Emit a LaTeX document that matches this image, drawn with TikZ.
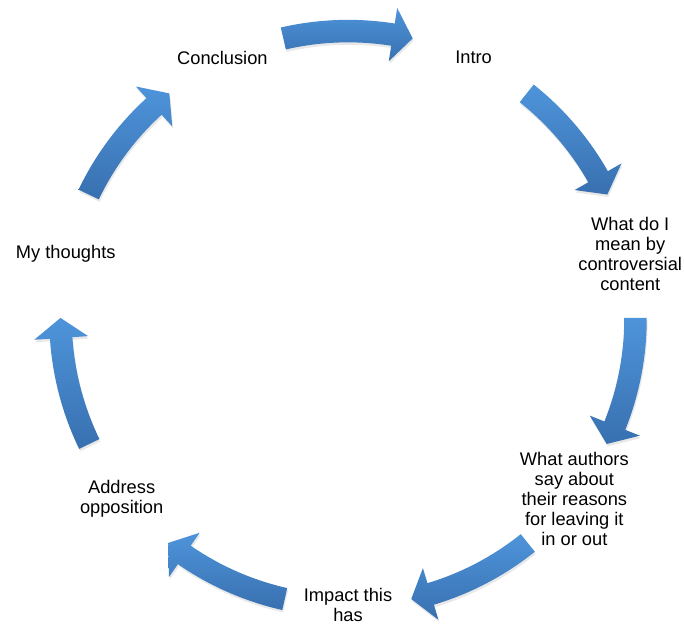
\documentclass[tikz,border=0pt]{standalone}
\usepackage{fontspec}
\setmainfont{Liberation Sans}
\usetikzlibrary{shadows}
\definecolor{cyctop}{RGB}{78,148,218}
\definecolor{cycbot}{RGB}{56,112,176}

\begin{document}
\begin{tikzpicture}[font=\fontsize{10.4}{11.3}\selectfont,
  lbl/.style={align=center,inner sep=0pt},
  cycarrow/.style={top color=cyctop,bottom color=cycbot,draw=none,
    drop shadow={opacity=0.18,shadow xshift=0.5pt,shadow yshift=-1.4pt}}]
\useasboundingbox (0,0) rectangle (13.68,12.52);
\begin{scope}[shift={(6.96,6.148)}]
% curved block arrows, clockwise between the steps
\foreach \m in {90,38.57,-12.86,-64.29,-115.71,-167.14,141.43} {
  \path[cycarrow] (\m+13:5.975) arc[start angle=\m+13,end angle=\m-9,radius=5.975]
    -- (\m-9:6.29) -- (\m-13:5.75) -- (\m-9:5.21) -- (\m-9:5.525)
    arc[start angle=\m-9,end angle=\m+13,radius=5.525] -- cycle;
}
% steps
\node[lbl] (intro) at (64.29:5.79) {Intro};
\node[lbl] (meaning) at (12.86:5.79) {What do I\\mean by\\controversial\\content};
\node[lbl] (authors) at (-38.57:5.79) {What authors\\say about\\their reasons\\for leaving it\\in or out};
\node[lbl] (impact) at (-90:5.72) {Impact this\\has};
\node[lbl] (oppose) at (-141.43:5.79) {Address\\opposition};
\node[lbl] (thoughts) at (167.14:5.79) {My thoughts};
\node[lbl] (concl) at (115.71:5.79) {Conclusion};
\end{scope}
\end{tikzpicture}
\end{document}
